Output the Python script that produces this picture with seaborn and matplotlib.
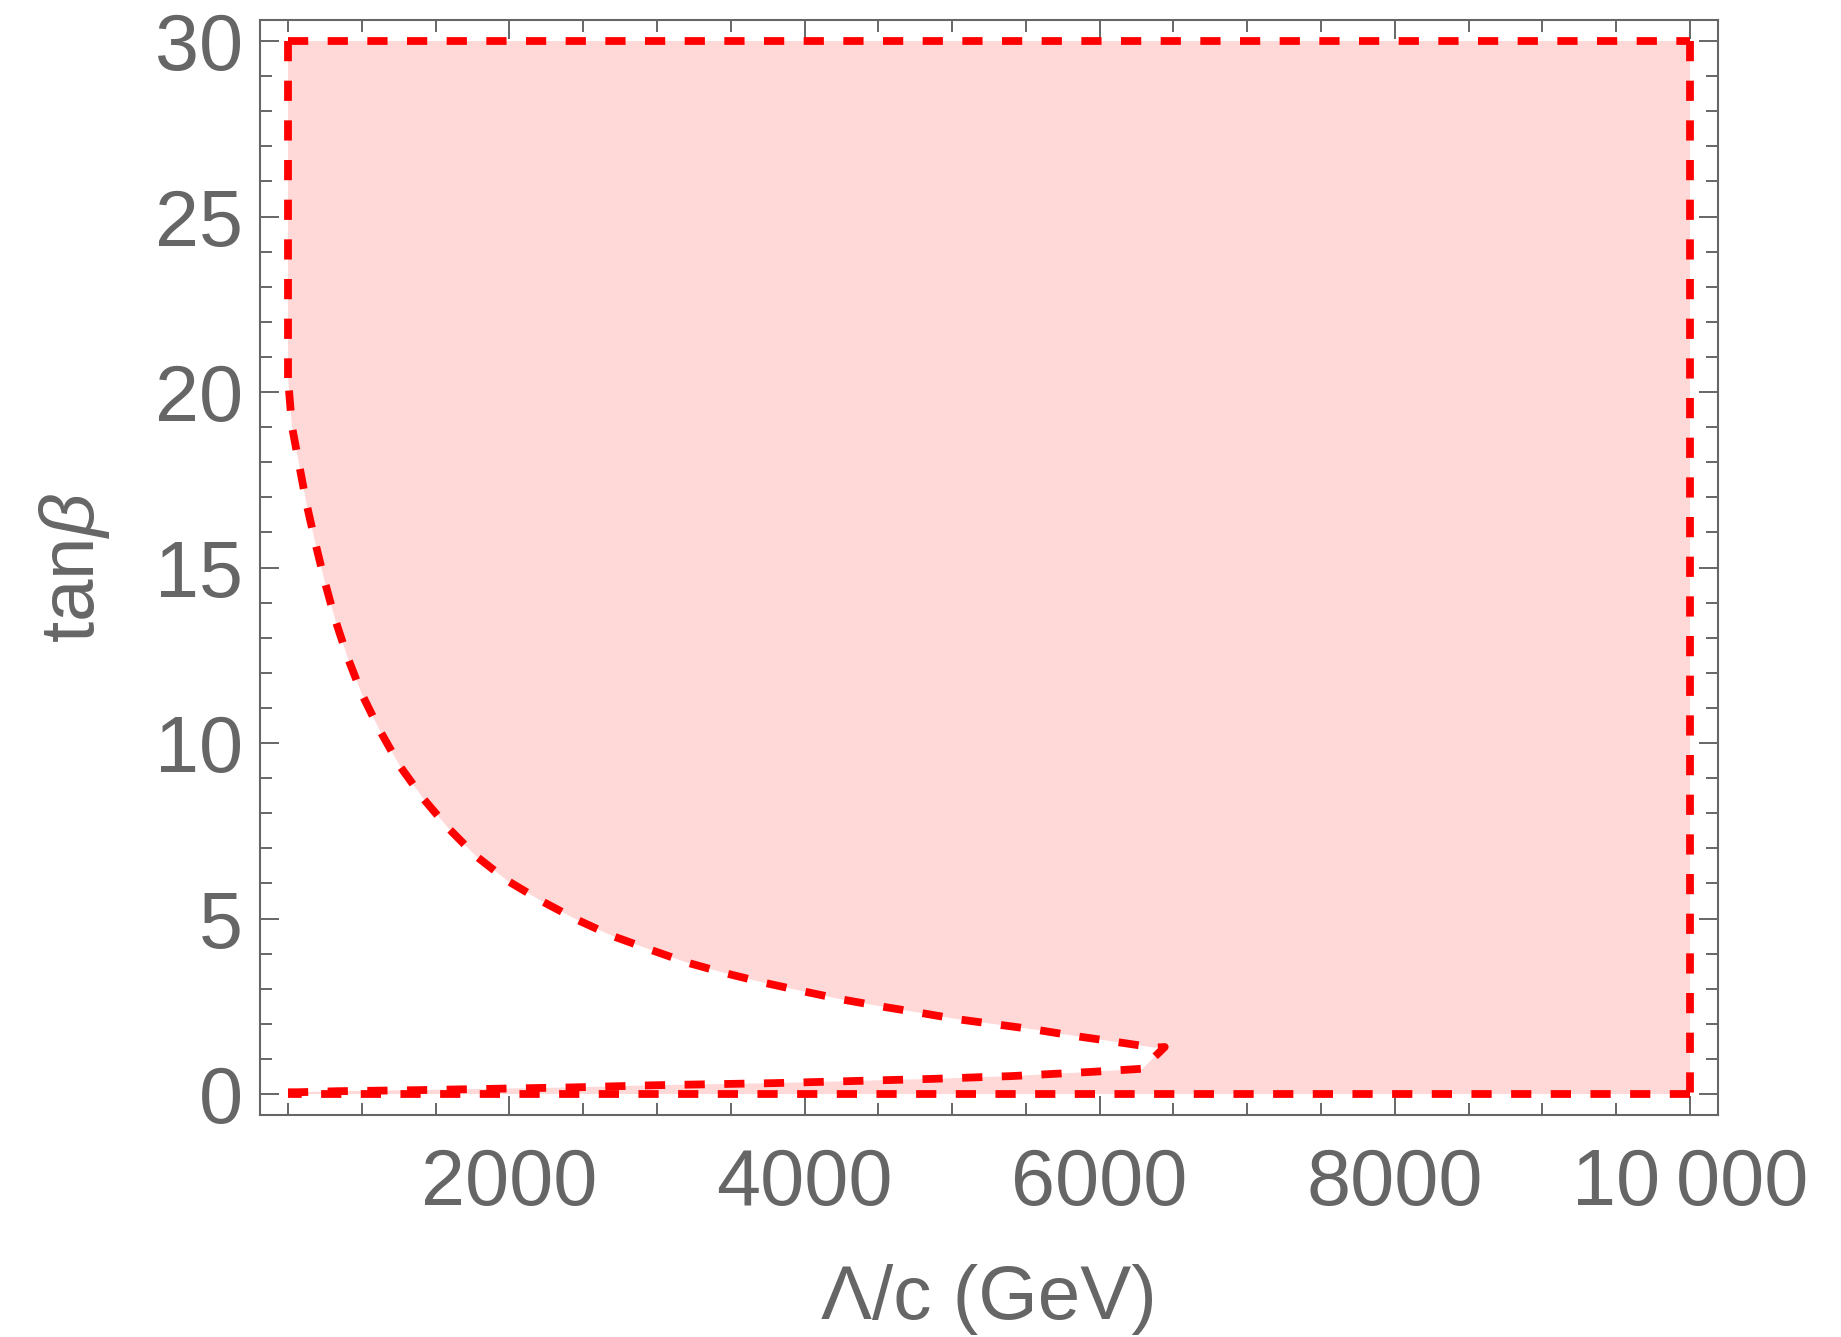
import pandas as pd
import matplotlib
matplotlib.use("Agg")
import matplotlib.pyplot as plt
import seaborn as sns
from matplotlib.ticker import MultipleLocator

# boundary of the excluded wedge (Lambda/c in GeV, tan beta)
upper_x = [500, 527, 577, 625, 686, 749, 821, 905, 1002, 1122, 1262, 1420, 1590,
           1771, 1986, 2213, 2446, 2694, 2943, 3200, 3456, 3716, 3976, 4247, 4512,
           4774, 5039, 5306, 5571, 5838, 6103, 6374, 6441]
upper_y = [20.4, 19.02, 17.9, 16.83, 15.69, 14.6, 13.5, 12.43, 11.38, 10.36, 9.32, 8.4, 7.56,
           6.79, 6.08, 5.51, 4.99, 4.51, 4.13, 3.75, 3.45, 3.18, 2.94, 2.70, 2.50,
           2.32, 2.13, 1.98, 1.83, 1.65, 1.49, 1.32, 1.34]
lower_x = [500, 566, 837, 1104, 1375, 1642, 1911, 2178, 2449, 2716, 2988, 3252, 3524,
           3796, 4067, 4333, 4598, 4858, 5129, 5400, 5672, 5943, 6214, 6290]
lower_y = [0.05, 0.05, 0.08, 0.095, 0.11, 0.13, 0.15, 0.17, 0.19, 0.22, 0.25, 0.27, 0.29,
           0.31, 0.34, 0.37, 0.40, 0.43, 0.47, 0.51, 0.57, 0.63, 0.70, 0.72]

lam_min, lam_max = 500, 10000
tb_min, tb_max = 0, 30

x_ticks = [2000, 4000, 6000, 8000, 10000]
x_labels = ["2000", "4000", "6000", "8000", "10\u2009000"]
y_ticks = [0, 5, 10, 15, 20, 25, 30]

gray = "#666666"
red = "#ff0000"
pink = "#ffd8d8"

sns.set_theme(style="ticks")
plt.rcParams["font.family"] = ["Liberation Sans", "DejaVu Sans"]
plt.rcParams["mathtext.fontset"] = "custom"
plt.rcParams["mathtext.rm"] = "Liberation Sans"
plt.rcParams["mathtext.it"] = "Liberation Sans:italic"

fig = plt.figure(figsize=(18.41, 13.37), dpi=100)
ax = fig.add_axes([0.1412, 0.166, 0.7920, 0.819])

# allowed region: whole box minus the wedge between the two curves
poly_x = [lam_min, lam_max, lam_max, lam_min] + lower_x + upper_x[::-1]
poly_y = [tb_max, tb_max, tb_min, tb_min] + lower_y + upper_y[::-1]
ax.fill(poly_x, poly_y, color=pink, lw=0, zorder=1)

# dashed boundary pieces
segs = []
segs.append(pd.DataFrame({"lam": [lam_min, lam_max], "tb": [tb_max, tb_max], "seg": "top"}))
segs.append(pd.DataFrame({"lam": [lam_max, lam_max], "tb": [tb_max, tb_min], "seg": "right"}))
segs.append(pd.DataFrame({"lam": [lam_max, lam_min], "tb": [tb_min, tb_min], "seg": "bottom"}))
segs.append(pd.DataFrame({"lam": [lam_min, lam_min], "tb": [tb_max, upper_y[0]], "seg": "left"}))
segs.append(pd.DataFrame({"lam": lower_x + upper_x[::-1], "tb": lower_y + upper_y[::-1], "seg": "curve"}))
edges = pd.concat(segs, ignore_index=True)

sns.lineplot(data=edges, x="lam", y="tb", units="seg", estimator=None, sort=False,
             color=red, linewidth=5.6, ax=ax, zorder=3)
for ln in ax.lines:
    ln.set_linestyle((0, (2.6, 2.5)))
    ln.set_solid_capstyle("butt")

ax.set_xlim(310, 10190)
ax.set_ylim(-0.6, 30.6)
ax.set_xticks(x_ticks, x_labels)
ax.set_yticks(y_ticks)
ax.xaxis.set_minor_locator(MultipleLocator(500))
ax.yaxis.set_minor_locator(MultipleLocator(1))

ax.tick_params(which="both", direction="in", top=True, right=True,
               colors=gray, width=1.4)
ax.tick_params(which="major", length=13.7, labelsize=57)
ax.tick_params(which="minor", length=8.6)
ax.tick_params(axis="x", which="major", pad=23)
ax.tick_params(axis="y", which="major", pad=12)

for s in ax.spines.values():
    s.set_color(gray)
    s.set_linewidth(1.5)

ax.set_xlabel("Λ/c (GeV)", fontsize=55, color=gray, labelpad=30)
ax.set_ylabel(r"tan$\beta$", fontsize=55, color=gray, labelpad=31)

fig.savefig("out.png", dpi=100)
